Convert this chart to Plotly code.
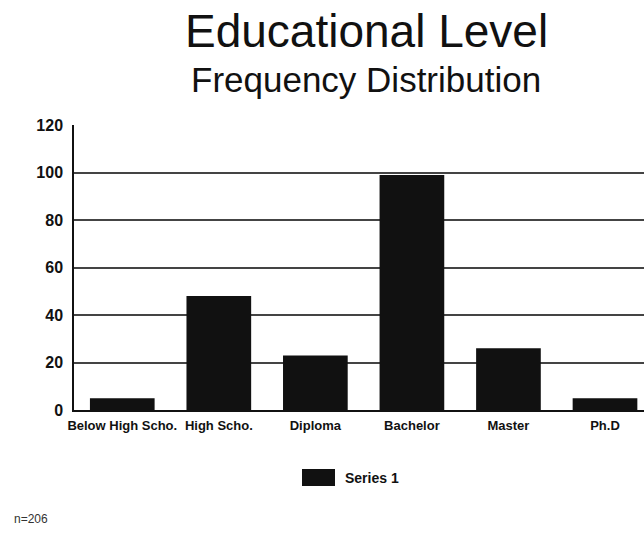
import plotly.graph_objects as go

categories = ["Below High Scho.", "High Scho.", "Diploma", "Bachelor", "Master", "Ph.D"]
values = [5, 48, 23, 99, 26, 5]
series_name = "Series 1"
y_ticks = [0, 20, 40, 60, 80, 100, 120]
title_main = "Educational Level"
title_sub = "Frequency Distribution"
note = "n=206"

W, H = 644, 533
L, R, T, B = 74, 0, 125, 123
ph = H - T - B

def py(p):
    return (H - B - p) / ph

def px(p):
    return (p - L) / (W - L - R)

fig = go.Figure()
fig.add_trace(go.Bar(
    x=categories, y=values, name=series_name,
    marker=dict(color="#111111", line=dict(width=0)),
    width=0.67, showlegend=False,
))

fig.update_layout(
    width=W, height=H,
    margin=dict(l=L, r=R, t=T, b=B),
    paper_bgcolor="white", plot_bgcolor="white",
    font=dict(family="Liberation Sans, Arial, sans-serif", color="#111111"),
    xaxis=dict(
        range=[-0.5, 5.404], showgrid=False, zeroline=False,
        showline=True, linecolor="#111111", linewidth=1.5,
        ticks="", tickfont=dict(size=13, weight="bold"),
        ticklabelstandoff=3,
    ),
    yaxis=dict(
        range=[0, 120], tickvals=y_ticks, showgrid=True, gridcolor="#444444", gridwidth=1.5,
        zeroline=False, showline=True, linecolor="#111111", linewidth=1.5,
        ticks="", tickfont=dict(size=16, weight="bold"), ticklabelstandoff=6,
    ),
    annotations=[
        dict(text=title_main, xref="paper", yref="paper", x=px(366), y=py(31),
             xanchor="center", yanchor="middle", showarrow=False,
             font=dict(size=46, color="#111111")),
        dict(text=title_sub, xref="paper", yref="paper", x=px(366), y=py(80),
             xanchor="center", yanchor="middle", showarrow=False,
             font=dict(size=35, color="#111111")),
        dict(text=series_name, xref="paper", yref="paper", x=px(343), y=py(478),
             xanchor="left", yanchor="middle", showarrow=False,
             font=dict(size=14, color="#111111", weight="bold")),
        dict(text=note, xref="paper", yref="paper", x=px(12), y=py(519),
             xanchor="left", yanchor="middle", showarrow=False,
             font=dict(size=12, color="#333333")),
    ],
    shapes=[
        dict(type="rect", xref="paper", yref="paper",
             x0=px(302), x1=px(335),
             y0=py(486), y1=py(469), fillcolor="#111111", line=dict(width=0)),
    ],
)

fig.write_html("out.html", config={"displayModeBar": False},
               post_script="document.body.style.margin='0';")
